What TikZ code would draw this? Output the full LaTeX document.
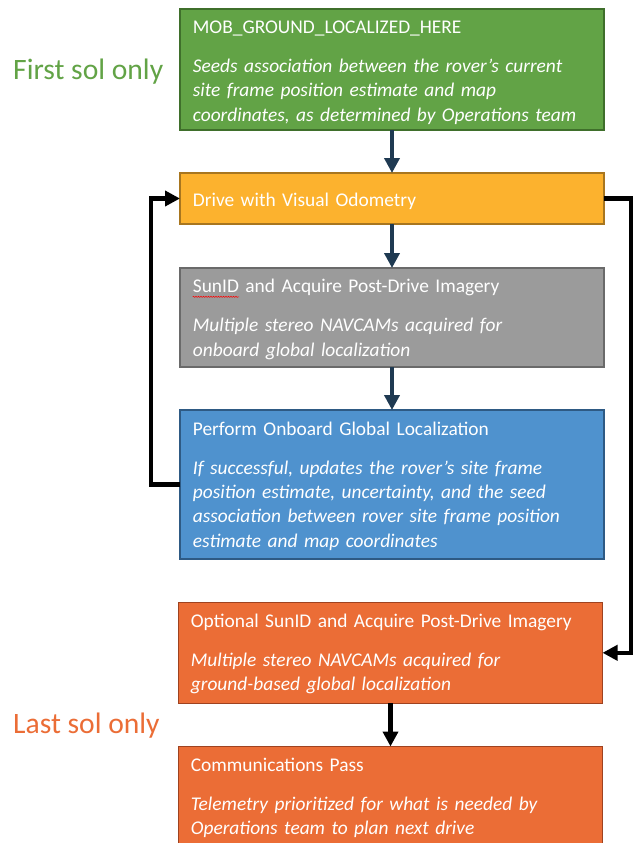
\documentclass[tikz,border=0pt]{standalone}
\usepackage{fontspec}
\setmainfont{Carlito}
\usetikzlibrary{arrows.meta,decorations.pathmorphing,calc}
\definecolor{grnfill}{HTML}{62A346}
\definecolor{grnline}{HTML}{3F6F2B}
\definecolor{yelfill}{HTML}{FCB22E}
\definecolor{yelline}{HTML}{A8761F}
\definecolor{grafill}{HTML}{9B9B9B}
\definecolor{graline}{HTML}{6A6A6A}
\definecolor{blufill}{HTML}{4F92CE}
\definecolor{bluline}{HTML}{2E5A84}
\definecolor{orafill}{HTML}{EB6D36}
\definecolor{oraline}{HTML}{9E4220}
\definecolor{navy}{HTML}{1F3A52}
\begin{document}
\begin{tikzpicture}[x=1pt,y=-1pt,
  box/.style={draw, line width=1.3pt, minimum width=424pt, anchor=north west, inner sep=0pt, outer sep=0pt},
  txt/.style={anchor=base west, inner sep=0pt, text width=410pt, align=left, text=white, font=\fontsize{19.4}{24.4}\selectfont},
  side/.style={anchor=base west, inner sep=0pt, font=\fontsize{29.6}{34}\selectfont},
  navyarrow/.style={draw=navy, line width=4pt, -{Triangle[length=15pt,width=15pt]}},
  blackarrow/.style={draw=black, line width=4.5pt, -{Triangle[length=15pt,width=15pt]}}
]
\useasboundingbox (0,0) rectangle (638,843);

% boxes
\node[box, fill=grnfill, draw=grnline, minimum height=121pt] (g) at (180,9) {};
\node[box, fill=yelfill, draw=yelline, minimum height=51pt] (d) at (180,173) {};
\node[box, fill=grafill, draw=graline, minimum height=99pt] (s) at (180,268) {};
\node[box, fill=blufill, draw=bluline, minimum height=149pt] (b) at (180,410) {};
\node[box, fill=orafill, draw=oraline, minimum height=101pt] (o1) at (178.5,602.3) {};
\node[box, fill=orafill, draw=oraline, minimum height=130pt] (o2) at (178.5,746.5) {};

% texts
\node[txt] (tg) at ($(g.north west)+(12.7,24.3)$) {MOB\_GROUND\_LOCALIZED\_HERE\\[14.6pt]\itshape Seeds association between the rover’s current\\site frame position estimate and map\\coordinates, as determined by Operations team};
\node[txt] (td) at ($(d.north west)+(12.7,33.5)$) {Drive with Visual Odometry};
\node[txt] (ts) at ($(s.north west)+(12.7,24.7)$) {SunID and Acquire Post-Drive Imagery\\[14.6pt]\itshape Multiple stereo NAVCAMs acquired for\\onboard global localization};
\node[txt] (tb) at ($(b.north west)+(12.7,25)$) {Perform Onboard Global Localization\\[14.6pt]\itshape If successful, updates the rover’s site frame\\position estimate, uncertainty, and the seed\\association between rover site frame position\\estimate and map coordinates};
\node[txt] (to1) at ($(o1.north west)+(12.2,24.7)$) {Optional SunID and Acquire Post-Drive Imagery\\[14.6pt]\itshape Multiple stereo NAVCAMs acquired for\\ground-based global localization};
\node[txt] (to2) at ($(o2.north west)+(12.2,24.5)$) {Communications Pass\\[14.6pt]\itshape Telemetry prioritized for what is needed by\\Operations team to plan next drive};

% spell-check squiggle under SunID
\coordinate (sq1) at ($(s.north west)+(12.7,28.8)$);
\coordinate (sq2) at ($(s.north west)+(59,28.8)$);
\draw[red, line width=0.5pt, decorate, decoration={snake, amplitude=0.6pt, segment length=2.5pt}] (sq1) -- (sq2);

% side labels
\node[side, text=grnfill] (first) at (13,80) {First sol only};
\node[side, text=orafill] (last) at (13,733) {Last sol only};

% connectors
\draw[navyarrow] (g.south) -- (d.north);
\draw[navyarrow] (d.south) -- (s.north);
\draw[navyarrow] (s.south) -- (b.north);
\draw[blackarrow] (o1.south) -- (o2.north);
\draw[blackarrow] (b.west) -- ++(-29,0) |- (d.west);
\draw[blackarrow] (d.east) -- ++(27,0) |- (o1.east);
\end{tikzpicture}
\end{document}
